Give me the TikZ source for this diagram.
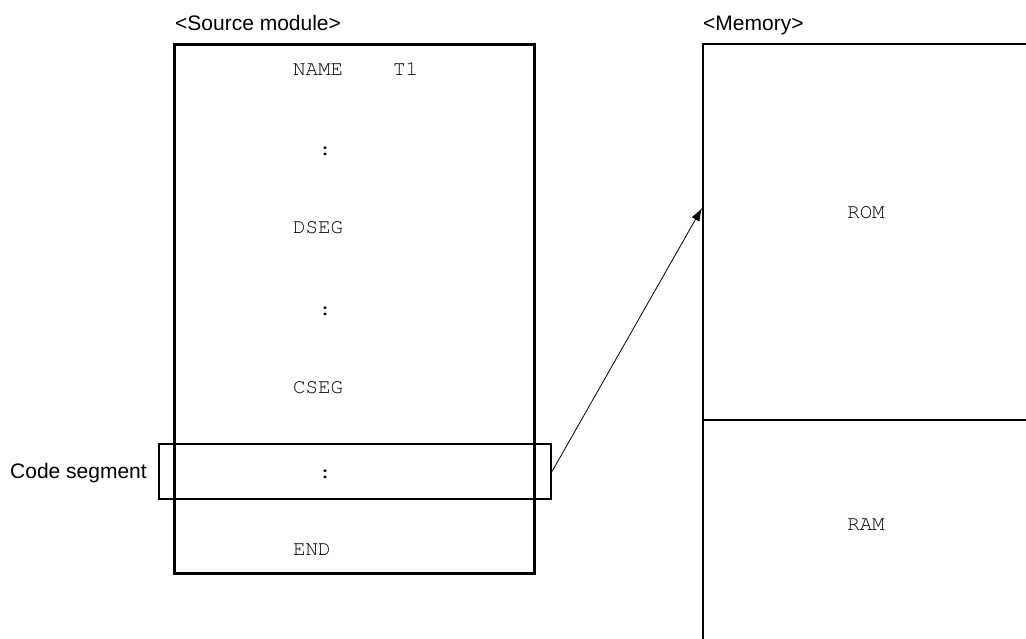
\documentclass[tikz,border=0pt]{standalone}
\usepackage{fontspec}
\setsansfont{Liberation Sans}
\setmonofont{TeX Gyre Cursor}
\usetikzlibrary{arrows.meta}

\begin{document}
\begin{tikzpicture}[
    x=1pt, y=-1pt, >=Latex,
    label style/.style={font=\sffamily\fontsize{21}{25}\selectfont, inner sep=0pt},
    code style/.style={font=\ttfamily\fontsize{20.8}{24}\selectfont, inner sep=0pt},
    module style/.style={draw, line width=3pt, minimum width=360pt, minimum height=529pt, inner sep=0pt},
    segment style/.style={draw, line width=2pt, minimum width=392pt, minimum height=55pt, inner sep=0pt},
    memory style/.style={line width=2.5pt},
    link style/.style={line width=0.8pt, -{Latex[length=13pt, width=9pt]}}
]

\useasboundingbox (0,0) rectangle (1026,638);

% Draw the source module
\node[module style] (module) at (354,308.5) {};
\node[label style, anchor=base west] (modtitle) at (175,30) {<Source module>};

% Draw the lines of the module
\node[code style, anchor=base west] (name) at (293,75) {NAME\ \ \ \ T1};
\node[code style, anchor=base] (dotsa) at (325,155) {:};
\node[code style, anchor=base west] (dseg) at (293,233) {DSEG};
\node[code style, anchor=base] (dotsb) at (325,315) {:};
\node[code style, anchor=base west] (cseg) at (293,393) {CSEG};
\node[code style, anchor=base] (dotsc) at (325,478) {:};
\node[code style, anchor=base west] (end) at (293,555) {END};

% Draw the code segment frame
\node[segment style] (segment) at (355,471.5) {};
\node[label style, anchor=base east] (segtitle) at (147,478) {Code segment};

% Draw the memory
\draw[memory style] (1030,44) -- (703,44) -- (703,642);
\draw[memory style] (704,420) -- (1030,420);
\node[label style, anchor=base west] (memtitle) at (703,30) {<Memory>};
\node[code style, anchor=base] (rom) at (866,218) {ROM};
\node[code style, anchor=base] (ram) at (866,530) {RAM};
\coordinate (romin) at (702,208);

% Draw the link
\draw[link style] (segment.east) -- (romin);
\end{tikzpicture}
\end{document}
